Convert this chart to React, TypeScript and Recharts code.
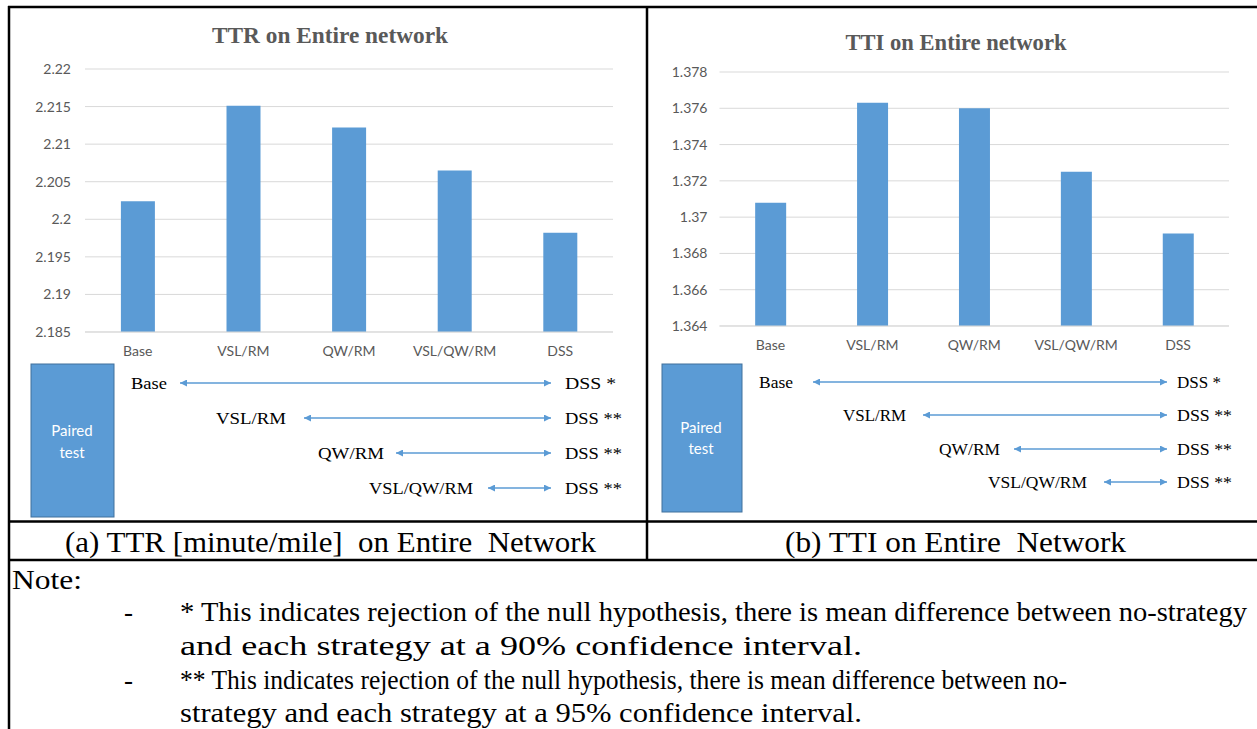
import React from 'react'
import { BarChart, Bar, XAxis, YAxis, CartesianGrid } from 'recharts'

// categories and values
const strategies = ['Base', 'VSL/RM', 'QW/RM', 'VSL/QW/RM', 'DSS']
const ttrValues = [2.2024, 2.2151, 2.2122, 2.2065, 2.1982]
const ttiValues = [1.3708, 1.3763, 1.376, 1.3725, 1.3691]
const ttrTicks = [2.185, 2.19, 2.195, 2.2, 2.205, 2.21, 2.215, 2.22]
const ttiTicks = [1.364, 1.366, 1.368, 1.37, 1.372, 1.374, 1.376, 1.378]

// paired test rows (strategy compared against DSS, significance mark)
const pairedFrom = ['Base', 'VSL/RM', 'QW/RM', 'VSL/QW/RM']
const pairedTo = ['DSS *', 'DSS **', 'DSS **', 'DSS **']

const noteLines = [
  '* This indicates rejection of the null hypothesis, there is mean difference between no-strategy',
  'and each strategy at a 90% confidence interval.',
  '** This indicates rejection of the null hypothesis, there is mean difference between no-',
  'strategy and each strategy at a 95% confidence interval.',
]

const BLUE = '#5b9bd5'
const GRID = '#d9d9d9'
const TICK = '#595959'
const SERIF = '"Liberation Serif", "Times New Roman", serif'
const SANS = 'Lato, "Open Sans", sans-serif'

const ttrData = strategies.map((name, i) => ({ name, value: ttrValues[i] }))
const ttiData = strategies.map((name, i) => ({ name, value: ttiValues[i] }))

const tickStyle = { fill: TICK, fontSize: 14, fontFamily: SANS }

// hand placed layout of the paired test blocks
const pairedLayouts = [
  {
    box: { x: 31, y: 364, w: 83, h: 153 },
    label: { x: 72, y1: 430, y2: 452 },
    rows: [
      { y: 383, fx: 131, fw: 36, ax: 180, dw: 51 },
      { y: 418, fx: 216, fw: 70, ax: 304, dw: 57 },
      { y: 453, fx: 318, fw: 66, ax: 396, dw: 57 },
      { y: 488, fx: 369, fw: 104, ax: 488, dw: 57 },
    ],
    arrowEnd: 551,
    dssX: 565,
  },
  {
    box: { x: 662, y: 364, w: 80, h: 148 },
    label: { x: 701, y1: 427, y2: 448 },
    rows: [
      { y: 382, fx: 759, fw: 34, ax: 813, dw: 44 },
      { y: 415, fx: 843, fw: 63, ax: 923, dw: 55 },
      { y: 449, fx: 939, fw: 61, ax: 1014, dw: 55 },
      { y: 482, fx: 988, fw: 99, ax: 1104, dw: 55 },
    ],
    arrowEnd: 1167,
    dssX: 1177,
  },
]

function PairedBlock({ layout }: { layout: (typeof pairedLayouts)[number] }) {
  const { box, label, rows, arrowEnd, dssX } = layout
  return (
    <g>
      <rect x={box.x} y={box.y} width={box.w} height={box.h} fill={BLUE} stroke="#41719c" strokeWidth={1} />
      <text x={label.x} y={label.y1} fill="#fff" fontSize={15} fontFamily={SANS} textAnchor="middle" dominantBaseline="central">
        Paired
      </text>
      <text x={label.x} y={label.y2} fill="#fff" fontSize={15} fontFamily={SANS} textAnchor="middle" dominantBaseline="central">
        test
      </text>
      {rows.map((r, i) => (
        <g key={i}>
          <text x={r.fx} y={r.y} fontSize={17.5} fontFamily={SERIF} dominantBaseline="central" textLength={r.fw} lengthAdjust="spacingAndGlyphs">
            {pairedFrom[i]}
          </text>
          <line
            x1={r.ax}
            y1={r.y}
            x2={arrowEnd}
            y2={r.y}
            stroke={BLUE}
            strokeWidth={1.5}
            markerStart="url(#arrowHead)"
            markerEnd="url(#arrowHead)"
          />
          <text x={dssX} y={r.y} fontSize={17.5} fontFamily={SERIF} dominantBaseline="central" textLength={r.dw} lengthAdjust="spacingAndGlyphs">
            {pairedTo[i]}
          </text>
        </g>
      ))}
    </g>
  )
}

export default function App() {
  return (
    <div style={{ position: 'absolute', left: 0, top: 0, width: 1257, height: 729, background: '#fff' }}>
      <div style={{ position: 'absolute', left: 0, top: 0 }}>
        <BarChart width={640} height={362} data={ttrData} margin={{ top: 69, right: 27, left: 10, bottom: 0 }} barCategoryGap="34%">
          <CartesianGrid stroke={GRID} vertical={false} />
          <XAxis dataKey="name" tick={tickStyle} axisLine={{ stroke: GRID }} tickLine={false} tickMargin={8} height={30} interval={0} />
          <YAxis
            domain={[2.185, 2.22]}
            ticks={ttrTicks}
            tick={tickStyle}
            axisLine={false}
            tickLine={false}
            tickMargin={8}
            width={75}
            allowDataOverflow
          />
          <Bar dataKey="value" fill={BLUE} isAnimationActive={false} />
        </BarChart>
      </div>
      <div style={{ position: 'absolute', left: 647, top: 0 }}>
        <BarChart width={610} height={356} data={ttiData} margin={{ top: 72, right: 28, left: 2, bottom: 0 }} barCategoryGap="35%">
          <CartesianGrid stroke={GRID} vertical={false} />
          <XAxis dataKey="name" tick={tickStyle} axisLine={{ stroke: GRID }} tickLine={false} tickMargin={8} height={30} interval={0} />
          <YAxis
            domain={[1.364, 1.378]}
            ticks={ttiTicks}
            tick={tickStyle}
            axisLine={false}
            tickLine={false}
            tickMargin={6}
            width={70.5}
            allowDataOverflow
          />
          <Bar dataKey="value" fill={BLUE} isAnimationActive={false} />
        </BarChart>
      </div>

      <svg width={1257} height={729} style={{ position: 'absolute', left: 0, top: 0, pointerEvents: 'none' }}>
        <defs>
          <marker id="arrowHead" viewBox="0 0 10 10" refX={10} refY={5} markerWidth={9} markerHeight={7} markerUnits="userSpaceOnUse" orient="auto-start-reverse">
            <path d="M0,0 L10,5 L0,10 z" fill={BLUE} />
          </marker>
        </defs>

        {/* chart titles */}
        <text x={330} y={35} fill={TICK} fontSize={23} fontWeight="bold" fontFamily={SERIF} textAnchor="middle" dominantBaseline="central" textLength={236} lengthAdjust="spacingAndGlyphs">
          TTR on Entire network
        </text>
        <text x={956} y={42} fill={TICK} fontSize={23} fontWeight="bold" fontFamily={SERIF} textAnchor="middle" dominantBaseline="central" textLength={221} lengthAdjust="spacingAndGlyphs">
          TTI on Entire network
        </text>

        {pairedLayouts.map((l, i) => (
          <PairedBlock key={i} layout={l} />
        ))}

        {/* table borders */}
        <g stroke="#000" strokeWidth={2.5}>
          <line x1={8} y1={7} x2={1257} y2={7} />
          <line x1={9} y1={6} x2={9} y2={729} />
          <line x1={647} y1={7} x2={647} y2={560} />
          <line x1={9} y1={521.5} x2={1257} y2={521.5} />
          <line x1={9} y1={560} x2={1257} y2={560} />
        </g>

        {/* captions */}
        <text x={65} y={542} fontSize={29} fontFamily={SERIF} dominantBaseline="central" textLength={531} lengthAdjust="spacingAndGlyphs" style={{ whiteSpace: 'pre' }}>
          {'(a) TTR [minute/mile]  on Entire  Network'}
        </text>
        <text x={785} y={542} fontSize={29} fontFamily={SERIF} dominantBaseline="central" textLength={341} lengthAdjust="spacingAndGlyphs" style={{ whiteSpace: 'pre' }}>
          {'(b) TTI on Entire  Network'}
        </text>

        {/* note */}
        <text x={12} y={580} fontSize={27} fontFamily={SERIF} dominantBaseline="central" textLength={70} lengthAdjust="spacingAndGlyphs">
          Note:
        </text>
        <text x={124} y={612} fontSize={27} fontFamily={SERIF} dominantBaseline="central">-</text>
        <text x={180} y={612} fontSize={27} fontFamily={SERIF} dominantBaseline="central" textLength={1067} lengthAdjust="spacingAndGlyphs">
          {noteLines[0]}
        </text>
        <text x={180} y={646} fontSize={27} fontFamily={SERIF} dominantBaseline="central" textLength={682} lengthAdjust="spacingAndGlyphs">
          {noteLines[1]}
        </text>
        <text x={124} y={680} fontSize={27} fontFamily={SERIF} dominantBaseline="central">-</text>
        <text x={180} y={680} fontSize={27} fontFamily={SERIF} dominantBaseline="central" textLength={887} lengthAdjust="spacingAndGlyphs">
          {noteLines[2]}
        </text>
        <text x={180} y={713} fontSize={27} fontFamily={SERIF} dominantBaseline="central" textLength={682} lengthAdjust="spacingAndGlyphs">
          {noteLines[3]}
        </text>
      </svg>
    </div>
  )
}
